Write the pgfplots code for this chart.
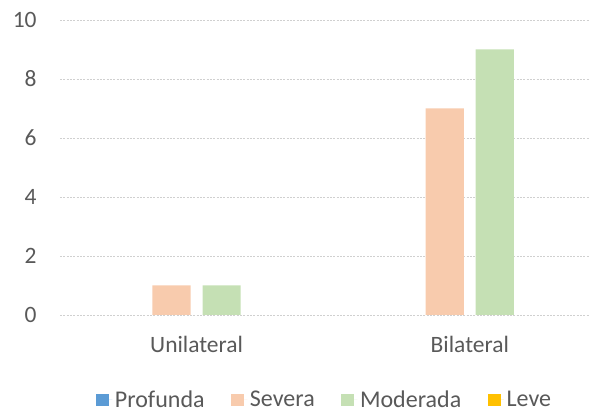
\documentclass[border=0pt]{standalone}
\usepackage{pgfplots}
\pgfplotsset{compat=1.18}
\usepackage{fontspec}
\setmainfont{Carlito}
\definecolor{cProf}{HTML}{5B9BD5}
\definecolor{cSev}{HTML}{F8CBAD}
\definecolor{cMod}{HTML}{C5E0B4}
\definecolor{cLeve}{HTML}{FFC000}
\definecolor{cTick}{HTML}{595959}
\definecolor{cGrid}{HTML}{D0D0D0}
\begin{document}
\begin{tikzpicture}
\begin{axis}[
  at={(0,0)}, anchor=south west,
  scale only axis, width=397.5pt, height=221.25pt,
  ymin=0, ymax=10, ytick={0,2,...,10},
  xmin=-0.5, xmax=1.44,
  xtick={0,1}, xticklabels={Unilateral,Bilateral},
  axis line style={draw=none},
  major tick length=0pt,
  ymajorgrids=true, xmajorgrids=false,
  grid style={color=cGrid, dash pattern=on 1.5pt off 1pt, line width=0.7pt},
  tick label style={font=\fontsize{17.6}{20}\selectfont, text=cTick},
  /pgf/number format/assume math mode=true,
  yticklabel style={xshift=-14pt},
  xticklabel style={yshift=-12pt},
  ybar, bar width=0.14,
  legend style={at={(0.5,-0.288)}, anchor=center, draw=none, legend columns=4,
    font=\fontsize{18}{20}\selectfont, text=cTick,
    /tikz/every even column/.append style={column sep=18pt}},
  legend image code/.code={\fill[#1] (0pt,-4.8pt) rectangle (9.6pt,4.8pt);
     \path (0pt,0pt) -- (12pt,0pt);},
]
\addlegendimage{fill=cProf, draw=none}
\addlegendentry{Profunda}
\addplot[forget plot, fill=none, draw=none, bar shift=-0.271] coordinates {(0,0) (1,0)};
\addplot[fill=cSev, draw=none, bar shift=-0.0916] coordinates {(0,1) (1,7)};
\addlegendentry{Severa}
\addplot[fill=cMod, draw=none, bar shift=0.0916] coordinates {(0,1) (1,9)};
\addlegendentry{Moderada}
\addplot[forget plot, fill=none, draw=none, bar shift=0.271] coordinates {(0,0) (1,0)};
\addlegendimage{fill=cLeve, draw=none}
\addlegendentry{Leve}
\end{axis}
\path[use as bounding box] (-45pt,-75.75pt) rectangle (407.25pt,236.25pt);
\end{tikzpicture}
\end{document}
